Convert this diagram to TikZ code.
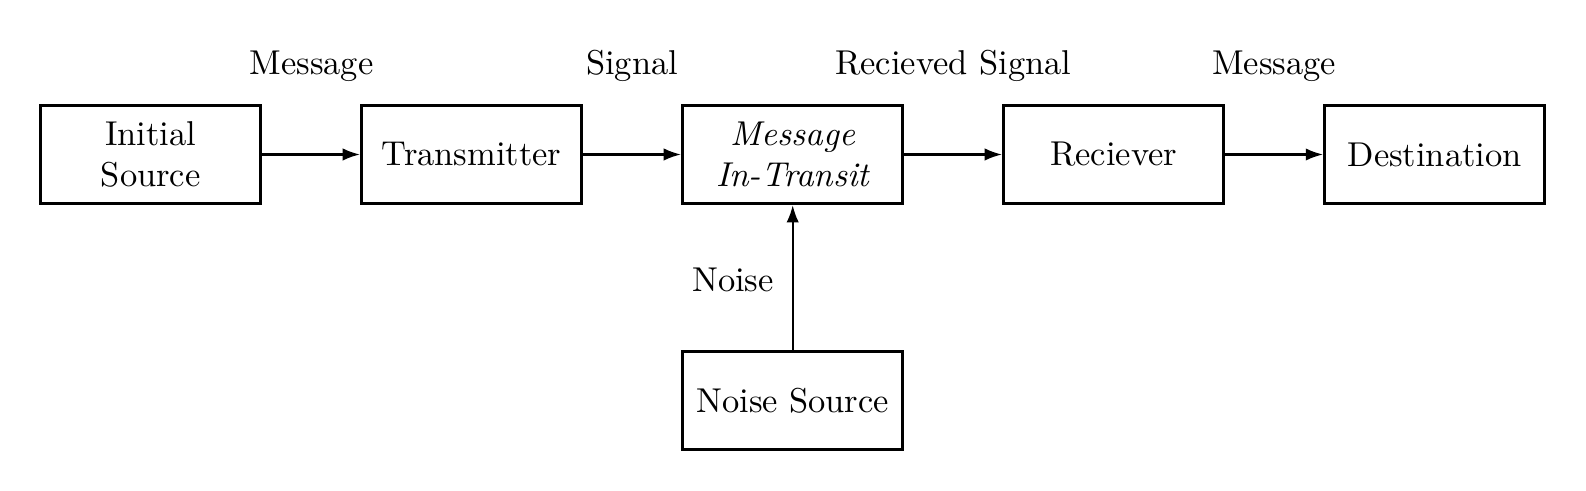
\documentclass[tikz,border=0pt]{standalone}
\usetikzlibrary{arrows.meta}
\begin{document}
\begin{tikzpicture}[x=0.29pt,y=-0.29pt,
  box/.style={draw, line width=1pt, minimum width=63.8pt, minimum height=28.4pt, align=center, inner sep=0pt},
  conn/.style={line width=0.6pt, -{Latex[length=5pt,width=3.6pt]}},
  lbl/.style={inner sep=0pt}]
\useasboundingbox (0,0) rectangle (1586,491);
\node[box] (src) at (150.7,154.5) {Initial\\Source};
\node[box] (tx) at (471.7,154.5) {Transmitter};
\node[box] (mit) at (792.7,154.5) {\itshape Message\\\itshape In-Transit};
\node[box] (rx) at (1113.7,154.5) {Reciever};
\node[box] (dst) at (1434.7,154.5) {Destination};
\node[box] (ns) at (792.7,400.5) {Noise Source};
\draw[conn] (src) -- (tx);
\draw[conn] (tx) -- (mit);
\draw[conn] (mit) -- (rx);
\draw[conn] (rx) -- (dst);
\draw[conn] (ns) -- (mit);
\node[lbl] (l1) at (311.5,66) {Message};
\node[lbl] (l2) at (632.2,66) {Signal};
\node[lbl] (l3) at (953.2,66) {Recieved Signal};
\node[lbl] (l4) at (1274.2,66) {Message};
\node[lbl] (l5) at (733,280) {Noise};
\end{tikzpicture}
\end{document}
